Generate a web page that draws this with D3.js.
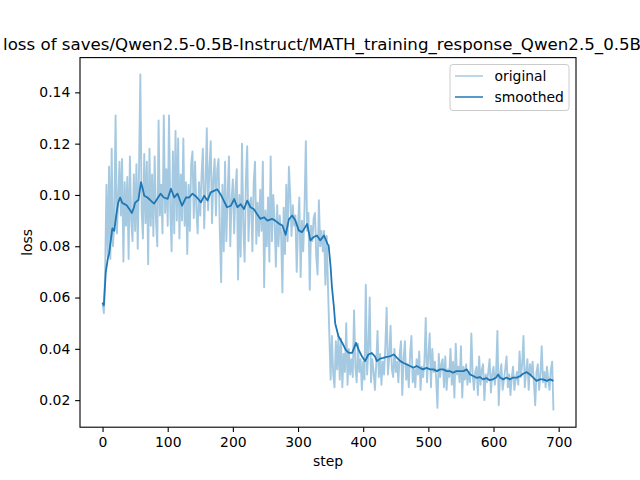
<!DOCTYPE html>
<html><head><meta charset="utf-8">
<script src="https://cdn.jsdelivr.net/npm/d3@7"></script>
<style>body{margin:0;background:#fff} svg{display:block} text{font-family:"DejaVu Sans",sans-serif;fill:#000}</style>
</head><body>
<svg id="chart" width="640" height="480"></svg>
<script>
const titleText = "loss of saves/Qwen2.5-0.5B-Instruct/MATH_training_response_Qwen2.5_0.5B_";
const xLabel = "step";
const yLabel = "loss";
const seriesNames = ["original", "smoothed"];
const originalStepEvery = 2;
const originalLoss = [
0.058,0.054,0.070,0.104,0.076,0.111,0.075,0.118,0.080,0.090,
0.131,0.085,0.098,0.113,0.092,0.114,0.074,0.105,0.088,0.107,
0.075,0.115,0.090,0.082,0.108,0.086,0.112,0.079,0.110,0.147,
0.094,0.083,0.116,0.089,0.113,0.073,0.118,0.088,0.108,0.084,
0.115,0.090,0.080,0.129,0.092,0.104,0.085,0.131,0.093,0.110,
0.088,0.131,0.094,0.078,0.117,0.085,0.125,0.090,0.122,0.083,
0.108,0.090,0.122,0.088,0.105,0.077,0.104,0.086,0.112,0.117,
0.091,0.113,0.094,0.085,0.105,0.092,0.108,0.118,0.087,0.103,
0.126,0.094,0.110,0.121,0.089,0.106,0.114,0.092,0.110,0.114,
0.086,0.066,0.104,0.078,0.113,0.082,0.100,0.115,0.080,0.098,
0.106,0.085,0.102,0.110,0.067,0.100,0.076,0.120,0.088,0.074,
0.106,0.119,0.082,0.097,0.099,0.078,0.105,0.113,0.081,0.097,
0.084,0.102,0.086,0.113,0.064,0.094,0.080,0.099,0.074,0.115,
0.082,0.100,0.090,0.072,0.096,0.080,0.092,0.085,0.062,0.095,
0.077,0.104,0.082,0.111,0.100,0.084,0.096,0.088,0.092,0.070,
0.088,0.099,0.068,0.090,0.078,0.095,0.121,0.086,0.093,0.063,
0.088,0.082,0.091,0.093,0.076,0.069,0.098,0.080,0.086,0.078,
0.086,0.065,0.084,0.064,0.046,0.028,0.045,0.030,0.025,0.043,
0.032,0.045,0.028,0.044,0.025,0.038,0.031,0.050,0.026,0.040,
0.030,0.036,0.029,0.055,0.033,0.027,0.042,0.031,0.036,0.024,
0.035,0.028,0.065,0.030,0.040,0.060,0.027,0.036,0.031,0.024,
0.034,0.047,0.029,0.038,0.026,0.035,0.030,0.041,0.056,0.030,
0.037,0.049,0.032,0.029,0.040,0.031,0.035,0.027,0.038,0.043,
0.022,0.036,0.043,0.028,0.034,0.025,0.038,0.045,0.027,0.032,
0.025,0.036,0.030,0.039,0.024,0.033,0.029,0.035,0.052,0.027,
0.037,0.046,0.025,0.040,0.031,0.035,0.028,0.017,0.038,0.029,
0.034,0.036,0.025,0.037,0.024,0.032,0.029,0.040,0.026,0.035,
0.021,0.042,0.030,0.033,0.027,0.041,0.021,0.033,0.028,0.034,
0.026,0.031,0.027,0.046,0.030,0.024,0.031,0.033,0.022,0.037,
0.026,0.032,0.034,0.020,0.030,0.027,0.031,0.036,0.023,0.030,
0.033,0.026,0.031,0.047,0.018,0.030,0.034,0.024,0.028,0.032,
0.037,0.025,0.030,0.022,0.029,0.033,0.024,0.028,0.031,0.026,
0.039,0.029,0.034,0.045,0.025,0.031,0.036,0.024,0.034,0.030,
0.035,0.027,0.018,0.031,0.034,0.024,0.030,0.041,0.027,0.031,
0.025,0.033,0.028,0.024,0.032,0.035,0.016
];
const smoothSteps = [0,2,5,8,10,13,15,18,21,24,27,30,33,37,41,45,48,50,55,59,62,64,69,74,79,84,89,94,100,105,110,115,122,128,133,138,143,147,151,156,161,166,171,176,181,186,191,197,202,207,212,217,222,227,232,237,242,248,253,260,265,271,276,281,286,291,296,301,306,311,314,319,324,329,334,340,345,347,350,352,355,357,362,368,373,378,383,389,393,398,403,408,413,418,421,426,431,436,441,447,452,457,462,467,472,477,482,487,492,497,503,508,513,518,523,528,533,538,543,548,554,559,564,569,574,579,584,589,594,599,604,607,610,615,620,625,630,636,641,646,651,656,661,666,671,676,682,687,692];
const smoothLoss = [0.058,0.057,0.070,0.075,0.077,0.083,0.087,0.086,0.092,0.097,0.099,0.097,0.0965,0.096,0.0945,0.093,0.095,0.097,0.098,0.105,0.102,0.0997,0.099,0.0978,0.0966,0.0985,0.1005,0.099,0.0985,0.1024,0.099,0.1005,0.0958,0.099,0.099,0.1005,0.0995,0.0984,0.0971,0.0997,0.0978,0.101,0.1016,0.1022,0.1003,0.0978,0.0952,0.0958,0.0984,0.0952,0.0964,0.0945,0.0978,0.0952,0.0945,0.0926,0.0907,0.0913,0.090,0.0907,0.090,0.0888,0.0881,0.0845,0.0905,0.092,0.090,0.0862,0.0855,0.0874,0.0887,0.0823,0.0836,0.0842,0.0823,0.0842,0.081,0.0803,0.072,0.0642,0.0565,0.050,0.0449,0.0423,0.0397,0.0384,0.0384,0.0423,0.0397,0.0371,0.0352,0.0378,0.0384,0.0371,0.0352,0.0362,0.0365,0.0369,0.0371,0.0378,0.0365,0.0352,0.0345,0.0339,0.0333,0.0326,0.0333,0.0326,0.032,0.0326,0.032,0.032,0.0313,0.032,0.032,0.0313,0.0313,0.0307,0.0313,0.0313,0.0313,0.032,0.030,0.0294,0.0287,0.029,0.0281,0.0286,0.0278,0.0281,0.0288,0.030,0.0288,0.0281,0.0288,0.0281,0.0288,0.0288,0.0294,0.0304,0.0309,0.030,0.0288,0.0275,0.0281,0.0281,0.0275,0.0281,0.0275];
const xTicks = [0,100,200,300,400,500,600,700];
const yTicks = [0.02,0.04,0.06,0.08,0.10,0.12,0.14];

const W = 640, H = 480;
const M = {left: 80, right: 576, top: 57.6, bottom: 427.2};
const color = "#1f77b4";
const svg = d3.select("#chart");

const original = originalLoss.map((v, i) => ({step: i * originalStepEvery, loss: v}));
const smoothed = smoothSteps.map((s, i) => ({step: s, loss: smoothLoss[i]}));
const all = original.concat(smoothed);
const xe = d3.extent(all, d => d.step), ye = d3.extent(all, d => d.loss);
const xm = (xe[1] - xe[0]) * 0.05, ym = (ye[1] - ye[0]) * 0.05;
const x = d3.scaleLinear().domain([xe[0] - xm, xe[1] + xm]).range([M.left, M.right]);
const y = d3.scaleLinear().domain([ye[0] - ym, ye[1] + ym]).range([M.bottom, M.top]);

svg.append("defs").append("clipPath").attr("id", "clip").append("rect")
  .attr("x", M.left).attr("y", M.top).attr("width", M.right - M.left).attr("height", M.bottom - M.top);

const line = d3.line().x(d => x(d.step)).y(d => y(d.loss));
const plot = svg.append("g").attr("clip-path", "url(#clip)");
plot.append("path").datum(original).attr("d", line).attr("fill", "none")
  .attr("stroke", color).attr("stroke-opacity", 0.4).attr("stroke-width", 1.9)
  .attr("stroke-linejoin", "round").attr("stroke-linecap", "butt");
plot.append("path").datum(smoothed).attr("d", line).attr("fill", "none")
  .attr("stroke", color).attr("stroke-width", 1.8)
  .attr("stroke-linejoin", "round");

const tickLen = 4.86, tickPad = 4.86, fs = 13.9;
const gx = svg.append("g").attr("transform", `translate(0,${M.bottom})`)
  .call(d3.axisBottom(x).tickValues(xTicks).tickSize(tickLen).tickPadding(tickPad).tickFormat(d3.format("d")));
const gy = svg.append("g").attr("transform", `translate(${M.left},0)`)
  .call(d3.axisLeft(y).tickValues(yTicks).tickSize(tickLen).tickPadding(tickPad).tickFormat(d3.format(".2f")));
[gx, gy].forEach(g => {
  g.select(".domain").remove();
  g.attr("font-family", null).attr("font-size", null);
  g.selectAll("line").attr("stroke", "#000").attr("stroke-width", 1.1);
  g.selectAll("text").attr("font-size", fs).attr("fill", "#000").style("font-family", '"DejaVu Sans", sans-serif');
});

svg.append("rect").attr("x", M.left).attr("y", M.top)
  .attr("width", M.right - M.left).attr("height", M.bottom - M.top)
  .attr("fill", "none").attr("stroke", "#000").attr("stroke-width", 1.1);

svg.append("text").attr("x", (M.left + M.right) / 2).attr("y", 466)
  .attr("text-anchor", "middle").attr("font-size", fs).text(xLabel);
svg.append("text").attr("transform", `translate(27,${(M.top + M.bottom) / 2}) rotate(-90)`)
  .attr("dy", "0.35em").attr("text-anchor", "middle").attr("font-size", fs).text(yLabel);
svg.append("text").attr("x", 3).attr("y", 50).attr("font-size", 16.67).text(titleText);

const lg = svg.append("g");
lg.append("rect").attr("x", 450).attr("y", 64.5).attr("width", 119).attr("height", 46)
  .attr("rx", 3).attr("fill", "#fff").attr("fill-opacity", 0.8).attr("stroke", "#cccccc").attr("stroke-width", 1);
seriesNames.forEach((name, i) => {
  const cy = 76 + i * 21;
  lg.append("line").attr("x1", 455).attr("x2", 483).attr("y1", cy).attr("y2", cy)
    .attr("stroke", color).attr("stroke-width", 1.5).attr("stroke-opacity", i === 0 ? 0.4 : 1);
  lg.append("text").attr("x", 494.5).attr("y", cy).attr("dy", "0.35em").attr("font-size", fs).text(name);
});
</script>
</body></html>
